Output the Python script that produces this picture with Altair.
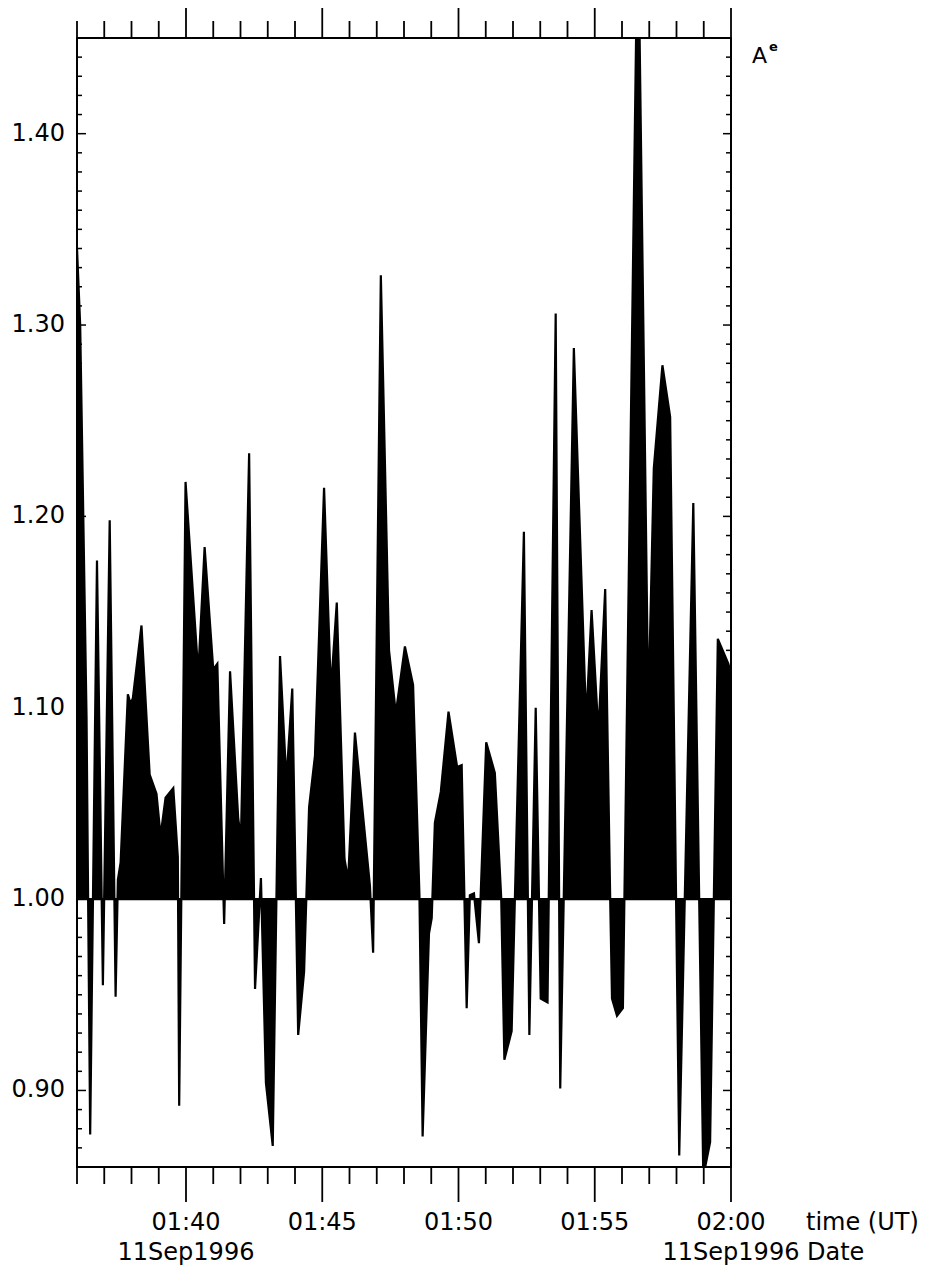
import altair as alt
import pandas as pd

# ---- data (time UT, A^e value) ----
times = [
    "01:36:00", "01:36:07", "01:36:21", "01:36:29", "01:36:44", "01:36:57", "01:37:12", "01:37:25",
    "01:37:30", "01:37:36", "01:37:52", "01:37:58", "01:38:03", "01:38:22", "01:38:40", "01:38:55",
    "01:39:04", "01:39:15", "01:39:32", "01:39:42", "01:39:45", "01:39:59", "01:40:27", "01:40:41",
    "01:41:00", "01:41:09", "01:41:24", "01:41:37", "01:41:55", "01:42:01", "01:42:19", "01:42:32",
    "01:42:45", "01:42:56", "01:43:11", "01:43:27", "01:43:41", "01:43:54", "01:44:07", "01:44:20",
    "01:44:31", "01:44:44", "01:45:04", "01:45:19", "01:45:32", "01:45:49", "01:45:57", "01:46:12",
    "01:46:45", "01:46:52", "01:47:09", "01:47:27", "01:47:42", "01:48:02", "01:48:20", "01:48:34",
    "01:48:41", "01:48:55", "01:49:01", "01:49:08", "01:49:21", "01:49:38", "01:49:57", "01:50:07",
    "01:50:18", "01:50:25", "01:50:34", "01:50:45", "01:51:01", "01:51:20", "01:51:34", "01:51:41",
    "01:51:57", "01:52:24", "01:52:36", "01:52:50", "01:53:01", "01:53:16", "01:53:34", "01:53:44",
    "01:54:14", "01:54:41", "01:54:53", "01:55:08", "01:55:23", "01:55:34", "01:55:38", "01:55:49",
    "01:56:02", "01:56:35", "01:56:58", "01:57:10", "01:57:29", "01:57:46", "01:58:06", "01:58:37",
    "01:58:59", "01:59:14", "01:59:31", "01:59:54", "02:00:00",
]
values = [
    1.340, 1.300, 1.095, 0.877, 1.177, 0.955, 1.198, 0.949,
    1.010, 1.019, 1.107, 1.102, 1.105, 1.143, 1.065, 1.055,
    1.033, 1.053, 1.058, 1.022, 0.892, 1.218, 1.118, 1.184,
    1.120, 1.123, 0.987, 1.119, 1.042, 1.032, 1.233, 0.953,
    1.011, 0.904, 0.871, 1.127, 1.062, 1.110, 0.929, 0.962,
    1.048, 1.075, 1.215, 1.109, 1.155, 1.021, 1.010, 1.087,
    1.007, 0.972, 1.326, 1.130, 1.097, 1.132, 1.112, 1.002,
    0.876, 0.982, 0.990, 1.040, 1.056, 1.098, 1.069, 1.070,
    0.943, 1.002, 1.003, 0.977, 1.082, 1.066, 1.001, 0.916,
    0.931, 1.192, 0.929, 1.100, 0.948, 0.946, 1.306, 0.901,
    1.288, 1.093, 1.151, 1.087, 1.162, 1.000, 0.948, 0.939,
    0.943, 1.520, 1.098, 1.225, 1.279, 1.252, 0.866, 1.207,
    0.855, 0.873, 1.136, 1.123, 1.118,
]
baseline_value = 1.0

x_domain = ["01:36", "02:00"]
y_domain = [0.86, 1.45]
x_minute_ticks = ["01:%02d" % m for m in range(36, 60)] + ["02:00"]
x_major_ticks = ["01:40", "01:45", "01:50", "01:55", "02:00"]
x_date_ticks = ["01:40", "02:00"]
date_label = "11Sep1996"
y_major_ticks = [0.90, 1.00, 1.10, 1.20, 1.30, 1.40]
y_major_labels = ["0.90", "1.00", "1.10", "1.20", "1.30", "1.40"]
y_minor_ticks = [round(0.87 + 0.01 * i, 2) for i in range(58)]
x_title = "time (UT)"
date_title = "Date"
y_title_main = "A"
y_title_sup = "e"


def to_minutes(s):
    parts = [int(p) for p in s.split(":")]
    h, m = parts[0], parts[1]
    sec = parts[2] if len(parts) > 2 else 0
    return (h - 1) * 60 + m + sec / 60.0


df = pd.DataFrame({"t": [to_minutes(s) for s in times], "v": values})

W, H = 654, 1129
FONT = "DejaVu Sans"
xs = alt.Scale(domain=[to_minutes(d) for d in x_domain], nice=False, zero=False)
ys = alt.Scale(domain=y_domain, nice=False, zero=False)

area = alt.Chart(df).mark_area(
    fill="black", stroke="black", strokeWidth=2.2, strokeJoin="miter", clip=True, interpolate="linear"
).encode(
    x=alt.X("t:Q", scale=xs, axis=None),
    y=alt.Y("v:Q", scale=ys, axis=None),
    y2=alt.datum(baseline_value),
)

minor_min = [to_minutes(s) for s in x_minute_ticks if s not in x_major_ticks]
major_min = [to_minutes(s) for s in x_major_ticks]
dminor = pd.DataFrame({"t": minor_min})
dmajor = pd.DataFrame({"t": major_min})


def xrule(d, y0, y1):
    return alt.Chart(d).mark_rule(color="black", strokeWidth=1.8).encode(
        x=alt.X("t:Q", scale=xs, axis=None), y=alt.value(y0), y2=alt.value(y1)
    )


bottom_minor = xrule(dminor, H, H + 17)
bottom_major = xrule(dmajor, H, H + 35)
top_minor = xrule(dminor, 0, -17)
top_major = xrule(dmajor, 0, -30)

ymin_vals = [v for v in y_minor_ticks if all(abs(v - M) > 1e-6 for M in y_major_ticks)]
dyminor = pd.DataFrame({"v": ymin_vals})
dymajor = pd.DataFrame({"v": y_major_ticks, "lab": y_major_labels})


def yrule(d, x0, x1):
    return alt.Chart(d).mark_rule(color="black", strokeWidth=1.5).encode(
        y=alt.Y("v:Q", scale=ys, axis=None), x=alt.value(x0), x2=alt.value(x1)
    )


left_minor = yrule(dyminor, 0, 5)
left_major = yrule(dymajor, 0, 9)
right_minor = yrule(dyminor, W, W - 5)
right_major = yrule(dymajor, W, W - 8)

ylabels = alt.Chart(dymajor).mark_text(
    align="right", baseline="middle", font=FONT, fontSize=24, color="black"
).encode(y=alt.Y("v:Q", scale=ys, axis=None), x=alt.value(-12), text="lab:N")

dxlab = pd.DataFrame({"t": major_min, "lab": x_major_ticks})
xlabels = alt.Chart(dxlab).mark_text(
    align="center", baseline="alphabetic", font=FONT, fontSize=24, color="black"
).encode(x=alt.X("t:Q", scale=xs, axis=None), y=alt.value(H + 63), text="lab:N")

ddate = pd.DataFrame({"t": [to_minutes(s) for s in x_date_ticks], "lab": [date_label] * len(x_date_ticks)})
dlabels = alt.Chart(ddate).mark_text(
    align="center", baseline="alphabetic", font=FONT, fontSize=24, color="black"
).encode(x=alt.X("t:Q", scale=xs, axis=None), y=alt.value(H + 93), text="lab:N")

xtitle = alt.Chart(pd.DataFrame({"lab": [x_title]})).mark_text(
    align="left", baseline="alphabetic", font=FONT, fontSize=24, color="black"
).encode(x=alt.value(729), y=alt.value(H + 63), text="lab:N")
datetitle = alt.Chart(pd.DataFrame({"lab": [date_title]})).mark_text(
    align="left", baseline="alphabetic", font=FONT, fontSize=24, color="black"
).encode(x=alt.value(730), y=alt.value(H + 93), text="lab:N")

ytitle = alt.Chart(pd.DataFrame({"lab": [y_title_main]})).mark_text(
    align="left", baseline="alphabetic", font=FONT, fontSize=22, color="black"
).encode(x=alt.value(675), y=alt.value(25), text="lab:N")
ysup = alt.Chart(pd.DataFrame({"lab": [y_title_sup]})).mark_text(
    align="left", baseline="alphabetic", font=FONT, fontSize=13, fontWeight="bold", color="black"
).encode(x=alt.value(692), y=alt.value(13), text="lab:N")

chart = alt.layer(
    area,
    bottom_minor, bottom_major, top_minor, top_major,
    left_minor, left_major, right_minor, right_major,
    ylabels, xlabels, dlabels, xtitle, datetitle, ytitle, ysup,
).properties(
    width=W, height=H,
    autosize=alt.AutoSizeParams(type="none"),
    padding={"left": 77, "top": 38, "right": 197, "bottom": 100},
    background="white",
).configure_view(stroke="black", strokeWidth=2)

chart.save("out.html", embed_options={"renderer": "svg", "actions": False})
